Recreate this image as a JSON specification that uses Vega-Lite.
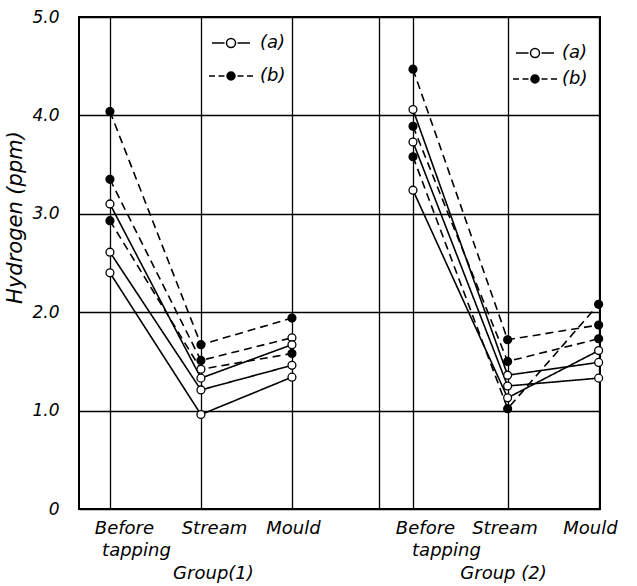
{
  "$schema": "https://vega.github.io/schema/vega-lite/v6.json",
  "width": 521,
  "height": 492,
  "autosize": "none",
  "padding": {"left": 79, "top": 17, "right": 37, "bottom": 77},
  "background": "white",
  "config": {
    "view": {"stroke": "black", "strokeWidth": 2},
    "font": "DejaVu Sans",
    "axis": {"labelFont": "DejaVu Sans", "labelFontStyle": "italic", "labelColor": "black", "titleFont": "DejaVu Sans", "titleFontStyle": "italic", "titleFontWeight": "normal", "titleColor": "black", "gridColor": "black", "gridOpacity": 1, "gridWidth": 1.3, "ticks": false, "tickSize": 0, "domain": false},
    "legend": {"labelFont": "DejaVu Sans", "labelFontStyle": "italic", "labelFontSize": 18, "labelColor": "black", "padding": 0, "offset": 0, "title": null}
  },
  "data": {"values": [
    {"run": "1b1", "series": "b", "pos": 1, "h": 4.04, "marker": "filled"},
    {"run": "1b1", "series": "b", "pos": 2, "h": 1.67, "marker": "filled"},
    {"run": "1b1", "series": "b", "pos": 3, "h": 1.94, "marker": "filled"},
    {"run": "1b2", "series": "b", "pos": 1, "h": 3.35, "marker": "filled"},
    {"run": "1b2", "series": "b", "pos": 2, "h": 1.51, "marker": "filled"},
    {"run": "1b2", "series": "b", "pos": 3, "h": 1.74, "marker": "open"},
    {"run": "1b3", "series": "b", "pos": 1, "h": 2.93, "marker": "filled"},
    {"run": "1b3", "series": "b", "pos": 2, "h": 1.42, "marker": "open"},
    {"run": "1b3", "series": "b", "pos": 3, "h": 1.58, "marker": "filled"},
    {"run": "1a1", "series": "a", "pos": 1, "h": 3.10, "marker": "open"},
    {"run": "1a1", "series": "a", "pos": 2, "h": 1.33, "marker": "open"},
    {"run": "1a1", "series": "a", "pos": 3, "h": 1.67, "marker": "open"},
    {"run": "1a2", "series": "a", "pos": 1, "h": 2.61, "marker": "open"},
    {"run": "1a2", "series": "a", "pos": 2, "h": 1.21, "marker": "open"},
    {"run": "1a2", "series": "a", "pos": 3, "h": 1.46, "marker": "open"},
    {"run": "1a3", "series": "a", "pos": 1, "h": 2.40, "marker": "open"},
    {"run": "1a3", "series": "a", "pos": 2, "h": 0.96, "marker": "open"},
    {"run": "1a3", "series": "a", "pos": 3, "h": 1.34, "marker": "open"},
    {"run": "2b1", "series": "b", "pos": 4.33, "h": 4.47, "marker": "filled"},
    {"run": "2b1", "series": "b", "pos": 5.37, "h": 1.72, "marker": "filled"},
    {"run": "2b1", "series": "b", "pos": 6.37, "h": 1.87, "marker": "filled"},
    {"run": "2b2", "series": "b", "pos": 4.33, "h": 3.89, "marker": "filled"},
    {"run": "2b2", "series": "b", "pos": 5.37, "h": 1.50, "marker": "filled"},
    {"run": "2b2", "series": "b", "pos": 6.37, "h": 1.73, "marker": "filled"},
    {"run": "2b3", "series": "b", "pos": 4.33, "h": 3.58, "marker": "filled"},
    {"run": "2b3", "series": "b", "pos": 5.37, "h": 1.02, "marker": "filled"},
    {"run": "2b3", "series": "b", "pos": 6.37, "h": 2.08, "marker": "filled"},
    {"run": "2a1", "series": "a", "pos": 4.33, "h": 4.06, "marker": "open"},
    {"run": "2a1", "series": "a", "pos": 5.37, "h": 1.36, "marker": "open"},
    {"run": "2a1", "series": "a", "pos": 6.37, "h": 1.49, "marker": "open"},
    {"run": "2a2", "series": "a", "pos": 4.33, "h": 3.73, "marker": "open"},
    {"run": "2a2", "series": "a", "pos": 5.37, "h": 1.25, "marker": "open"},
    {"run": "2a2", "series": "a", "pos": 6.37, "h": 1.33, "marker": "open"},
    {"run": "2a3", "series": "a", "pos": 4.33, "h": 3.24, "marker": "open"},
    {"run": "2a3", "series": "a", "pos": 5.37, "h": 1.13, "marker": "open"},
    {"run": "2a3", "series": "a", "pos": 6.37, "h": 1.61, "marker": "open"}
  ]},
  "encoding": {
    "y": {
      "field": "h", "type": "quantitative",
      "scale": {"domain": [0, 5], "nice": false, "zero": true},
      "axis": {
        "title": "Hydrogen (ppm)",
        "values": [0, 1, 2, 3, 4, 5],
        "grid": true,
        "labelFontSize": 17,
        "labelPadding": 20,
        "labelExpr": "datum.value == 0 ? '0' : format(datum.value, '.1f')",
        "titleFontSize": 21,
        "titleX": -64,
        "titleY": 200,
        "titleAngle": -90,
        "titleAlign": "center",
        "titleBaseline": "middle"
      }
    }
  },
  "resolve": {"scale": {"shape": "independent"}, "legend": {"shape": "independent"}, "axis": {"x": "independent"}},
  "layer": [
    {
      "mark": {"type": "line", "color": "black", "strokeWidth": 1.6},
      "encoding": {
        "x": {
          "field": "pos", "type": "quantitative",
          "scale": {"domain": [0.66, 6.385], "nice": false, "zero": false},
          "axis": {"orient": "bottom", "offset": 0, "title": null, "values": [1, 2, 3, 3.96, 4.33, 5.37, 6.37], "grid": true, "labels": false}
        },
        "detail": {"field": "run"},
        "strokeDash": {"field": "series", "type": "nominal", "scale": {"domain": ["a", "b"], "range": [[1, 0], [8, 5]]}, "legend": null}
      }
    },
    {
      "mark": {"type": "point", "shape": "circle", "filled": true, "size": 62, "strokeWidth": 1.3, "opacity": 1},
      "encoding": {
        "x": {"field": "pos", "type": "quantitative", "axis": null},
        "fill": {"field": "marker", "type": "nominal", "scale": {"domain": ["open", "filled"], "range": ["white", "black"]}, "legend": null},
        "stroke": {"value": "black"}
      }
    },
    {
      "transform": [{"filter": "false"}],
      "mark": {"type": "point"},
      "encoding": {
        "x": {
          "field": "pos", "type": "quantitative",
          "axis": {"orient": "bottom", "offset": 0, "title": null, "grid": false, "values": [1.154, 2.143, 3.011, 4.462, 5.335, 6.275],
            "labelFontSize": 18, "labelPadding": 24, "labelBaseline": "alphabetic", "labelAlign": "center", "labelFlush": false, "labelOverlap": false,
            "labelExpr": "datum.value < 1.5 ? 'Before' : datum.value < 2.5 ? 'Stream' : datum.value < 3.5 ? 'Mould' : datum.value < 5 ? 'Before' : datum.value < 6 ? 'Stream' : 'Mould'"}
        }
      }
    },
    {
      "transform": [{"filter": "false"}],
      "mark": {"type": "point"},
      "encoding": {
        "x": {
          "field": "pos", "type": "quantitative",
          "axis": {"orient": "bottom", "offset": 0, "title": null, "grid": false, "values": [1.286, 4.692],
            "labelFontSize": 18, "labelPadding": 46, "labelBaseline": "alphabetic", "labelAlign": "center", "labelFlush": false, "labelOverlap": false,
            "labelExpr": "'tapping'"}
        }
      }
    },
    {
      "transform": [{"filter": "false"}],
      "mark": {"type": "point"},
      "encoding": {
        "x": {
          "field": "pos", "type": "quantitative",
          "axis": {"orient": "bottom", "offset": 0, "title": null, "grid": false, "values": [2.132, 5.319],
            "labelFontSize": 18, "labelPadding": 69, "labelBaseline": "alphabetic", "labelAlign": "center", "labelFlush": false, "labelOverlap": false,
            "labelExpr": "datum.value < 4 ? 'Group(1)' : 'Group (2)'"}
        }
      }
    },
    {
      "transform": [{"filter": "false"}],
      "mark": {"type": "point", "filled": false, "color": "black", "strokeWidth": 1.5},
      "encoding": {
        "x": {"field": "pos", "type": "quantitative", "axis": null},
        "shape": {
          "field": "series", "type": "nominal",
          "scale": {"domain": ["a", "b"], "range": [
            "M-1.9,0H-0.65M0.65,0H1.9M0.45,0A0.45,0.45,0,1,1,-0.45,0A0.45,0.45,0,1,1,0.45,0Z",
            "M-2.2,0H-1.6M-1.25,0H-0.65M0.65,0H1.25M1.6,0H2.2M0.4,0A0.4,0.4,0,1,1,-0.4,0A0.4,0.4,0,1,1,0.4,0ZM0.28,0A0.28,0.28,0,1,1,-0.28,0A0.28,0.28,0,1,1,0.28,0ZM0.16,0A0.16,0.16,0,1,1,-0.16,0A0.16,0.16,0,1,1,0.16,0ZM0.05,0A0.05,0.05,0,1,1,-0.05,0A0.05,0.05,0,1,1,0.05,0Z"
          ]},
          "legend": {
            "orient": "none", "legendX": 141, "legendY": 15, "direction": "vertical",
            "symbolSize": 400, "symbolStrokeWidth": 1.5, "symbolStrokeColor": "black", "symbolOpacity": 1,
            "labelOffset": 18, "rowPadding": 13,
            "labelExpr": "'(' + datum.value + ')'"
          }
        }
      }
    },
    {
      "transform": [{"filter": "false"}],
      "mark": {"type": "point", "filled": false, "color": "black", "strokeWidth": 1.5},
      "encoding": {
        "x": {"field": "pos", "type": "quantitative", "axis": null},
        "shape": {
          "field": "series", "type": "nominal",
          "scale": {"domain": ["a", "b"], "range": [
            "M-1.9,0H-0.65M0.65,0H1.9M0.45,0A0.45,0.45,0,1,1,-0.45,0A0.45,0.45,0,1,1,0.45,0Z",
            "M-2.2,0H-1.6M-1.25,0H-0.65M0.65,0H1.25M1.6,0H2.2M0.4,0A0.4,0.4,0,1,1,-0.4,0A0.4,0.4,0,1,1,0.4,0ZM0.28,0A0.28,0.28,0,1,1,-0.28,0A0.28,0.28,0,1,1,0.28,0ZM0.16,0A0.16,0.16,0,1,1,-0.16,0A0.16,0.16,0,1,1,0.16,0ZM0.05,0A0.05,0.05,0,1,1,-0.05,0A0.05,0.05,0,1,1,0.05,0Z"
          ]},
          "legend": {
            "orient": "none", "legendX": 445, "legendY": 25, "direction": "vertical",
            "symbolSize": 400, "symbolStrokeWidth": 1.5, "symbolStrokeColor": "black", "symbolOpacity": 1,
            "labelOffset": 16, "rowPadding": 6,
            "labelExpr": "'(' + datum.value + ')'"
          }
        }
      }
    }
  ]
}
